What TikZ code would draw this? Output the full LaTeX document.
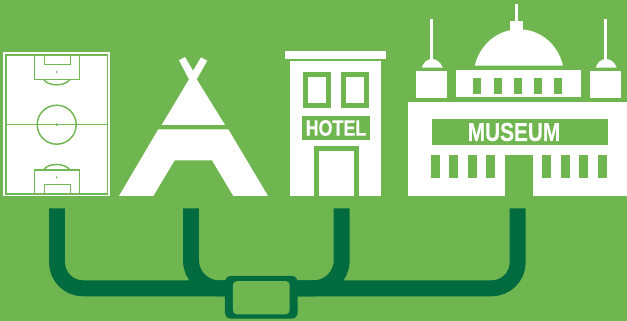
\documentclass[tikz,border=0pt]{standalone}
\usepackage{fontspec}
\newfontfamily\signfont[FakeStretch=0.8,BoldFeatures={FakeStretch=0.8,FakeBold=0.4}]{Liberation Sans}
\definecolor{lawn}{HTML}{6FB651}
\definecolor{pine}{HTML}{006B3F}
\definecolor{fieldgreen}{HTML}{72B956}

\begin{document}
\begin{tikzpicture}[x=0.02cm,y=-0.02cm,
    fieldline/.style={draw=fieldgreen, line width=0.85pt},
    busline/.style={draw=pine, line width=9.07pt},
    signtext/.style={white, font=\signfont\bfseries, inner sep=0pt}]
  \fill[lawn] (0,0) rectangle (627,321);
  \useasboundingbox (0,0) rectangle (627,321);
  % pitch
  \fill[white] (3.3,52.5) rectangle (110,196);
  \draw[fieldline] (5.8,55.2) rectangle (107.6,193.8);
  \draw[fieldline] (5.8,124.7) -- (107.6,124.7);
  \draw[fieldline] (56.7,124.7) circle (19.5);
  \fill[fieldgreen] (56.7,124.7) circle (1.5);
  \draw[fieldline] (34.3,55.2) rectangle (79.3,79.3);
  \draw[fieldline] (44.5,55.2) rectangle (70.5,64.7);
  \draw[fieldline] (43.5,79.3) .. controls (48,86.7) and (65,86.7) .. (70,79.3);
  \fill[fieldgreen] (56.7,72) circle (1);
  \draw[fieldline] (34.3,193.8) rectangle (79.3,170);
  \draw[fieldline] (44.5,193.8) rectangle (70.5,184.3);
  \draw[fieldline] (43.5,170) .. controls (48,162.6) and (65,162.6) .. (70,170);
  \fill[fieldgreen] (56.7,177.3) circle (1);
  % tent
  \fill[white] (179,60.3) -- (185,57) -- (193,70.7) -- (201,57.3) -- (207.3,60.7)
    -- (196.7,79.3) -- (225,125) -- (161.7,125) -- (189,79.3) -- cycle;
  \fill[white] (158.3,129.3) -- (228.3,129.3) -- (268,196) -- (233.3,196)
    -- (212,160.3) -- (174.7,160.3) -- (153.3,196) -- (119,196) -- cycle;
  % hotel
  \fill[white] (285,51) rectangle (386,59);
  \fill[white] (290,61.3) rectangle (381.3,196);
  \foreach \winx in {303,341} {
    \fill[lawn] (\winx,72.3) rectangle ++(28,36);
    \fill[white] (\winx+4.7,77) rectangle ++(18.6,26.3);
  }
  \fill[lawn] (302,116) rectangle (370,139.7);
  \node[signtext, font=\signfont\bfseries\fontsize{12.7}{13}\selectfont] (hotelsign) at (336,128) {HOTEL};
  \fill[lawn] (314.3,146) rectangle (359.3,196);
  \fill[white] (319,150.7) rectangle (354.3,196);
  % museum
  \fill[white] (408,102.3) rectangle (627,196);
  \fill[lawn] (432,119) rectangle (607.7,144.7);
  \node[signtext, font=\signfont\bfseries\fontsize{14.8}{15}\selectfont] (museumsign) at (514,132) {MUSEUM};
  \foreach \winx in {431,449.3,468,486.3,542,560.7,579,597.7}
    \fill[lawn] (\winx,155) rectangle ++(9,23);
  \fill[lawn] (505,155) rectangle (532.7,196);
  \fill[white] (456,70.3) rectangle (581,97.3);
  \foreach \winx in {473.3,493.7,514,534,554}
    \fill[lawn] (\winx,78) rectangle ++(8,15.7);
  \foreach \towerx in {416,590} {
    \fill[white] (\towerx,70.7) rectangle ++(31,27.3);
    \fill[white] (\towerx+5.8,67.7) .. controls (\towerx+7.5,62) and (\towerx+11.5,59) .. (\towerx+16,59)
      .. controls (\towerx+20.5,59) and (\towerx+24.5,62) .. (\towerx+26.8,67.7) -- cycle;
    \fill[white] (\towerx+14.4,19.3) rectangle ++(3,41);
  }
  \fill[white] (474.7,65.7) .. controls (480,44) and (498,29.3) .. (519,29.3)
    .. controls (540,29.3) and (558,44) .. (563,65.7) -- cycle;
  \fill[white] (510,20.7) rectangle (523,31);
  \fill[white] (515,4) rectangle (518,21);
  % connectors
  \node[fill=pine, rounded corners=0.12cm, minimum width=1.454cm, minimum height=0.854cm, inner sep=0pt] (hub) at (261.3,297.3) {};
  \node[fill=lawn, rounded corners=0.08cm, minimum width=1.134cm, minimum height=0.666cm, inner sep=0pt] (hubhole) at (261.3,297.7) {};
  \coordinate (hubleft) at (227,288.3);
  \coordinate (hubright) at (296,288.3);
  \coordinate (pitchend) at (57,208.3);
  \coordinate (tentend) at (191,208.3);
  \coordinate (hotelend) at (341.7,208.3);
  \coordinate (museumend) at (517.7,208.3);
  \draw[busline, rounded corners=0.52cm] (pitchend) |- (hubleft);
  \draw[busline, rounded corners=0.56cm] (tentend) |- (hubleft);
  \draw[busline, rounded corners=0.56cm] (hotelend) |- (hubright);
  \draw[busline, rounded corners=0.52cm] (museumend) |- (hubright);
\end{tikzpicture}
\end{document}
